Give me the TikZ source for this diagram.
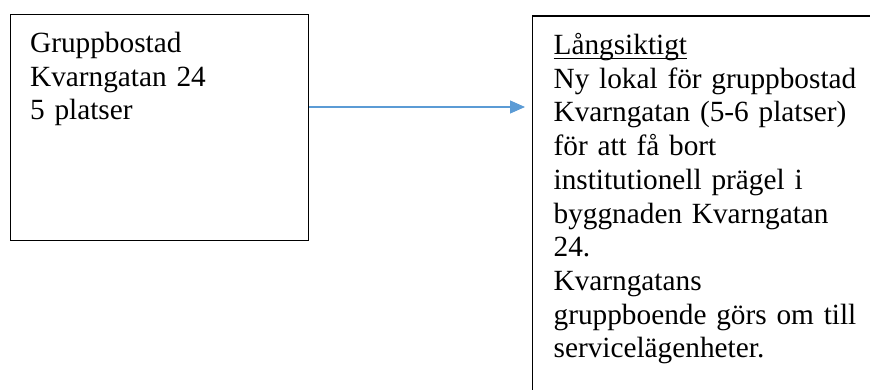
\documentclass[tikz,border=0pt]{standalone}
\usepackage{fontspec}
\setmainfont{Liberation Serif}
\usetikzlibrary{arrows.meta}

\definecolor{flowblue}{RGB}{91,155,213}
\newcommand\ulword[1]{\setbox0\hbox{#1}\rlap{\rule[-4.5pt]{\wd0}{1.1pt}}\box0}

\tikzset{
  box/.style={draw, line width=1.2pt, rectangle, anchor=north west, align=left,
    inner xsep=20pt, inner ysep=0pt, font=\fontsize{29.3}{33.7}\selectfont},
  flow/.style={-{Triangle[length=15pt,width=13pt]}, draw=flowblue, line width=1.1pt}
}

\begin{document}
\begin{tikzpicture}[x=1pt,y=-1pt]
	\useasboundingbox (0,0) rectangle (870,390);
	\clip (0,0) rectangle (870,390);
	\node[box, text width=258.5pt, text height=38pt, text depth=188pt] (grupp) at (9.5,14)
	{Gruppbostad\\Kvarngatan 24\\5 platser};%
	\node[box, inner xsep=21pt, text width=340pt, text height=38.5pt, text depth=380pt] (lang) at (532,15.5)
	{\ulword{Långsiktigt}\\Ny lokal för gruppbostad\\Kvarngatan (5-6 platser)\\för att få bort\\institutionell prägel i\\byggnaden Kvarngatan\\24.\\Kvarngatans\\gruppboende görs om till\\servicelägenheter.};
	\coordinate (tip) at (525,107);

	\draw[flow] (grupp.east |- tip) -- (tip);
\end{tikzpicture}
\end{document}
